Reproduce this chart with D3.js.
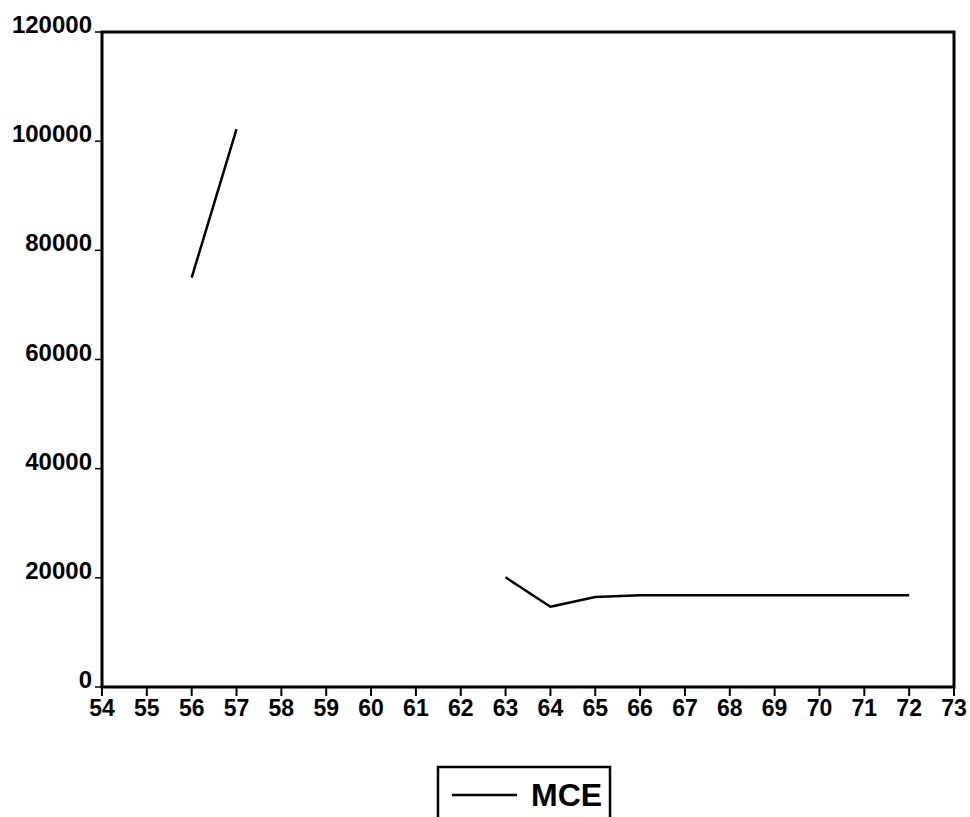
<!DOCTYPE html>
<html>
<head>
<meta charset="utf-8">
<script src="https://cdn.jsdelivr.net/npm/d3@7"></script>
<style>
  body { margin: 0; background: #fff; }
  text { font-family: "Liberation Sans", Arial, sans-serif; font-weight: bold; fill: #000; }
</style>
</head>
<body>
<div class="chart"></div>
<script>
// years 54..73, null = no data
const years = [54, 55, 56, 57, 58, 59, 60, 61, 62, 63, 64, 65, 66, 67, 68, 69, 70, 71, 72, 73];
const mce = [null, null, 75000, 102200, null, null, null, null, null, 20100, 14700, 16500, 16800, 16800, 16800, 16800, 16800, 16800, 16800, null];
const yTicks = [0, 20000, 40000, 60000, 80000, 100000, 120000];
const seriesName = "MCE";

const w = 970, h = 817;
const margin = { top: 32, left: 102, right: 16, bottom: 130 };

const svg = d3.select(".chart").append("svg")
  .attr("width", w).attr("height", h);

const x = d3.scaleLinear().domain([54, 73]).range([margin.left, w - margin.right]);
const y = d3.scaleLinear().domain([0, 120000]).range([h - margin.bottom, margin.top]);

const dataset = years.map((yr, i) => ({ yr: yr, v: mce[i] }));

// y axis ticks + labels
const yAxis = svg.append("g").attr("id", "y-axis");
yAxis.selectAll("line").data(yTicks).enter().append("line")
  .attr("x1", margin.left - 7).attr("x2", margin.left)
  .attr("y1", d => y(d)).attr("y2", d => y(d))
  .attr("stroke", "#000").attr("stroke-width", 1.5);
yAxis.selectAll("text").data(yTicks).enter().append("text")
  .attr("x", margin.left - 10)
  .attr("y", d => y(d) + 1)
  .attr("text-anchor", "end")
  .style("font-size", "24px")
  .text(d => d);

// x axis ticks + labels
const xAxis = svg.append("g").attr("id", "x-axis");
xAxis.selectAll("line").data(years).enter().append("line")
  .attr("x1", d => x(d)).attr("x2", d => x(d))
  .attr("y1", y(0)).attr("y2", y(0) + 9)
  .attr("stroke", "#000").attr("stroke-width", 2);
xAxis.selectAll("text").data(years).enter().append("text")
  .attr("x", d => x(d))
  .attr("y", y(0) + 29)
  .attr("text-anchor", "middle")
  .style("font-size", "23px")
  .text(d => d);

// frame
svg.append("rect")
  .attr("x", x(54)).attr("y", y(120000))
  .attr("width", x(73) - x(54)).attr("height", y(0) - y(120000))
  .attr("fill", "none").attr("stroke", "#000").attr("stroke-width", 3);

// series line
const line = d3.line()
  .defined(d => d.v !== null)
  .x(d => x(d.yr))
  .y(d => y(d.v));

svg.append("path")
  .datum(dataset)
  .attr("d", line)
  .attr("fill", "none")
  .attr("stroke", "#000")
  .attr("stroke-width", 2.5)
  .attr("stroke-linejoin", "round");

// legend
const leg = svg.append("g").attr("class", "legend");
leg.append("rect")
  .attr("x", 438).attr("y", 767)
  .attr("width", 172).attr("height", 70)
  .attr("fill", "none").attr("stroke", "#000").attr("stroke-width", 2.5);
leg.append("line")
  .attr("x1", 452).attr("x2", 517)
  .attr("y1", 795).attr("y2", 795)
  .attr("stroke", "#000").attr("stroke-width", 2.5);
leg.append("text")
  .attr("x", 531).attr("y", 806)
  .style("font-size", "32px")
  .text(seriesName);
</script>
</body>
</html>
